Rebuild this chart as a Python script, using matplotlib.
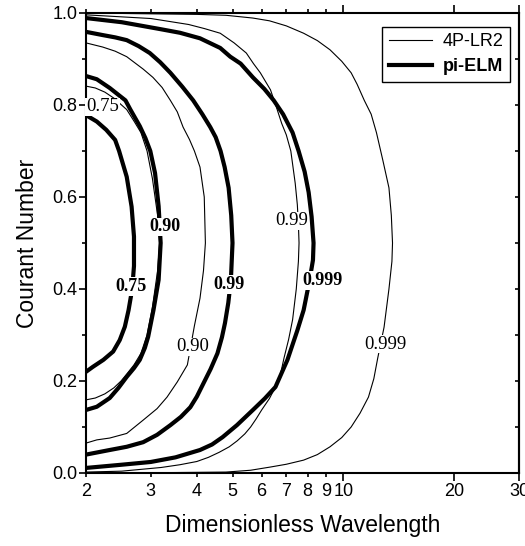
import matplotlib
matplotlib.use("Agg")
import matplotlib.pyplot as plt
from matplotlib.ticker import FixedLocator, FixedFormatter

# curves: (Courant number, wavelength) pairs
# 4P-LR2 (thin)
lr_075_y = [0.159, 0.163, 0.172, 0.185, 0.20, 0.215, 0.235, 0.26, 0.30, 0.36, 0.44, 0.50,
            0.56, 0.64, 0.70, 0.74, 0.765, 0.79, 0.815, 0.828, 0.837, 0.841]
lr_075_x = [2.0, 2.12, 2.25, 2.38, 2.49, 2.58, 2.70, 2.82, 2.93, 3.03, 3.13, 3.17,
            3.13, 3.03, 2.93, 2.82, 2.70, 2.58, 2.38, 2.25, 2.12, 2.0]
lr_090_y = [0.065, 0.072, 0.076, 0.086, 0.115, 0.14, 0.165, 0.198, 0.235, 0.32, 0.38, 0.44, 0.50,
            0.60, 0.665, 0.70, 0.725, 0.752, 0.785, 0.81, 0.838, 0.86, 0.878, 0.905, 0.917, 0.926, 0.935]
lr_090_x = [2.0, 2.14, 2.32, 2.58, 2.86, 3.12, 3.32, 3.54, 3.77, 3.94, 4.08, 4.17, 4.22,
            4.19, 4.08, 3.94, 3.82, 3.67, 3.54, 3.39, 3.22, 3.04, 2.86, 2.58, 2.40, 2.22, 2.0]
lr_099_y = [0.002, 0.004, 0.012, 0.018, 0.025, 0.034, 0.045, 0.057, 0.07, 0.085, 0.10, 0.118, 0.137,
            0.162, 0.187, 0.215, 0.25, 0.29, 0.333, 0.40, 0.46, 0.50, 0.54, 0.583, 0.63, 0.70, 0.735,
            0.76, 0.80, 0.833, 0.87, 0.89, 0.913, 0.935, 0.956, 0.966, 0.975, 0.988, 0.996]
lr_099_x = [2.0, 2.5, 3.2, 3.6, 4.0, 4.3, 4.6, 4.9, 5.15, 5.4, 5.6, 5.8, 6.0,
            6.3, 6.54, 6.75, 6.9, 7.1, 7.28, 7.45, 7.55, 7.58, 7.55, 7.5, 7.4, 7.2, 7.0,
            6.8, 6.55, 6.34, 5.95, 5.7, 5.45, 5.05, 4.63, 4.2, 3.8, 3.0, 2.0]
lr_0999_y = [0.0, 0.001, 0.002, 0.006, 0.013, 0.019, 0.028, 0.04, 0.057, 0.077, 0.10, 0.13, 0.165,
             0.205, 0.25, 0.317, 0.40, 0.46, 0.50, 0.56, 0.62, 0.68, 0.74, 0.78, 0.81, 0.845, 0.87,
             0.895, 0.92, 0.94, 0.956, 0.972, 0.983, 0.989, 0.995, 0.997, 1.0]
lr_0999_x = [2.0, 3.5, 4.8, 5.6, 6.34, 7.0, 7.8, 8.5, 9.2, 9.9, 10.5, 11.1, 11.7,
             12.1, 12.4, 12.9, 13.3, 13.55, 13.6, 13.5, 13.3, 12.8, 12.3, 11.9, 11.4, 10.9, 10.5,
             9.9, 9.2, 8.5, 7.8, 7.0, 6.3, 5.68, 4.8, 4.0, 2.0]

# pi-ELM (thick)
elm_075_y = [0.22, 0.231, 0.246, 0.264, 0.289, 0.318, 0.354, 0.40, 0.45, 0.514, 0.579, 0.644,
             0.70, 0.724, 0.746, 0.764, 0.778]
elm_075_x = [2.0, 2.09, 2.23, 2.37, 2.47, 2.55, 2.61, 2.67, 2.70, 2.70, 2.66, 2.58,
             2.46, 2.40, 2.27, 2.14, 2.0]
elm_090_y = [0.137, 0.144, 0.163, 0.185, 0.209, 0.228, 0.246, 0.272, 0.296, 0.354, 0.42, 0.50,
             0.58, 0.652, 0.70, 0.728, 0.754, 0.79, 0.81, 0.837, 0.856, 0.863]
elm_090_x = [2.0, 2.14, 2.32, 2.45, 2.58, 2.70, 2.80, 2.89, 2.95, 3.05, 3.15, 3.19,
             3.15, 3.08, 2.99, 2.90, 2.80, 2.64, 2.56, 2.32, 2.14, 2.0]
elm_099_y = [0.04, 0.05, 0.057, 0.067, 0.083, 0.104, 0.122, 0.143, 0.166, 0.195, 0.226, 0.26, 0.295,
             0.326, 0.37, 0.42, 0.50, 0.56, 0.62, 0.665, 0.70, 0.73, 0.752, 0.78, 0.81, 0.84, 0.87,
             0.893, 0.913, 0.928, 0.941, 0.947, 0.952, 0.959]
elm_099_x = [2.0, 2.32, 2.58, 2.86, 3.12, 3.39, 3.62, 3.84, 4.0, 4.17, 4.36, 4.55, 4.68,
             4.77, 4.87, 4.95, 5.0, 4.96, 4.88, 4.76, 4.64, 4.50, 4.35, 4.14, 3.91, 3.65, 3.39,
             3.18, 2.98, 2.78, 2.58, 2.40, 2.22, 2.0]
elm_0999_y = [0.011, 0.018, 0.024, 0.034, 0.05, 0.062, 0.078, 0.104, 0.137, 0.162, 0.187, 0.246,
              0.31, 0.354, 0.376, 0.42, 0.463, 0.50, 0.557, 0.61, 0.655, 0.70, 0.74, 0.78, 0.81,
              0.835, 0.86, 0.89, 0.905, 0.924, 0.945, 0.957, 0.965, 0.98, 0.989]
elm_0999_x = [2.0, 2.5, 3.0, 3.5, 4.08, 4.4, 4.7, 5.14, 5.68, 6.12, 6.54, 7.05,
              7.5, 7.8, 7.9, 8.1, 8.27, 8.3, 8.2, 8.05, 7.85, 7.56, 7.28, 6.86, 6.47,
              6.1, 5.68, 5.26, 4.93, 4.63, 4.08, 3.6, 3.18, 2.5, 2.0]

# contour labels: text, x, y
lr_labels = [("0.75", 2.22, 0.796), ("0.90", 3.89, 0.274), ("0.99", 7.22, 0.548), ("0.999", 13.0, 0.28)]
elm_labels = [("0.75", 2.65, 0.405), ("0.90", 3.28, 0.535), ("0.99", 4.88, 0.41), ("0.999", 8.8, 0.418)]

x_ticks_minor = [2, 3, 4, 5, 6, 7, 8, 9]
x_ticks_major = [10, 20, 30]

fig = plt.figure(figsize=(5.25, 5.46), dpi=100)
ax = fig.add_axes([0.1638, 0.1337, 0.8248, 0.8425])

thin = 0.8
thick = 3.0
ax.plot(lr_075_x, lr_075_y, color='black', lw=thin, label='4P-LR2')
ax.plot(lr_090_x, lr_090_y, color='black', lw=thin)
ax.plot(lr_099_x, lr_099_y, color='black', lw=thin)
ax.plot(lr_0999_x, lr_0999_y, color='black', lw=thin)
ax.plot(elm_075_x, elm_075_y, color='black', lw=thick, label='pi-ELM')
ax.plot(elm_090_x, elm_090_y, color='black', lw=thick)
ax.plot(elm_099_x, elm_099_y, color='black', lw=thick)
ax.plot(elm_0999_x, elm_0999_y, color='black', lw=thick)

box = dict(facecolor='white', edgecolor='none', pad=0.5)
for txt, x, y in lr_labels:
    ax.text(x, y, txt, family='Liberation Serif', fontsize=13.5, ha='center', va='center',
            bbox=box, zorder=5)
for txt, x, y in elm_labels:
    ax.text(x, y, txt, family='Liberation Serif', fontsize=13, fontweight='bold',
            ha='center', va='center', bbox=box, zorder=5)

ax.set_xscale('log')
ax.set_xlim(2, 30)
ax.set_ylim(0, 1)
ax.xaxis.set_major_locator(FixedLocator(x_ticks_major))
ax.xaxis.set_major_formatter(FixedFormatter([str(v) for v in x_ticks_major]))
ax.xaxis.set_minor_locator(FixedLocator(x_ticks_minor))
ax.xaxis.set_minor_formatter(FixedFormatter([str(v) for v in x_ticks_minor]))
ax.set_yticks([0.0, 0.2, 0.4, 0.6, 0.8, 1.0])
ax.set_yticklabels(['0.0', '0.2', '0.4', '0.6', '0.8', '1.0'])
ax.set_yticks([0.1, 0.3, 0.5, 0.7, 0.9], minor=True)

for lab in ax.get_xticklabels(which='both') + ax.get_yticklabels():
    lab.set_fontfamily('Liberation Sans')
    lab.set_fontsize(13)

ax.tick_params(axis='x', which='major', direction='out', length=6, width=1.2, top=True, pad=1)
ax.tick_params(axis='x', which='minor', direction='out', length=3, width=1.2, top=True, pad=4)
ax.tick_params(axis='y', which='major', direction='out', length=5, width=1.2, pad=1)
ax.tick_params(axis='y', which='minor', direction='out', length=3, width=1.2)

sec = ax.secondary_yaxis('right')
sec.set_yticks([0.1, 0.2, 0.3, 0.4, 0.5, 0.6, 0.7, 0.8, 0.9])
sec.tick_params(direction='in', length=3, width=1.2, labelright=False)
sec.spines['right'].set_linewidth(1.5)

for s in ax.spines.values():
    s.set_linewidth(1.5)

ax.set_xlabel('Dimensionless Wavelength', family='Liberation Sans', fontsize=16.5, labelpad=10)
ax.set_ylabel('Courant Number', family='Liberation Sans', fontsize=16.5, labelpad=10)

leg = ax.legend(loc='upper right', bbox_to_anchor=(0.979, 0.970), fancybox=False,
                edgecolor='black', framealpha=1, handlelength=2.4, handletextpad=0.6,
                prop={'family': 'Liberation Sans', 'size': 13}, borderpad=0.35,
                labelspacing=0.45, borderaxespad=0)
leg.get_frame().set_linewidth(1.0)
leg.get_texts()[1].set_fontweight('bold')

fig.savefig('out.png', dpi=100)
